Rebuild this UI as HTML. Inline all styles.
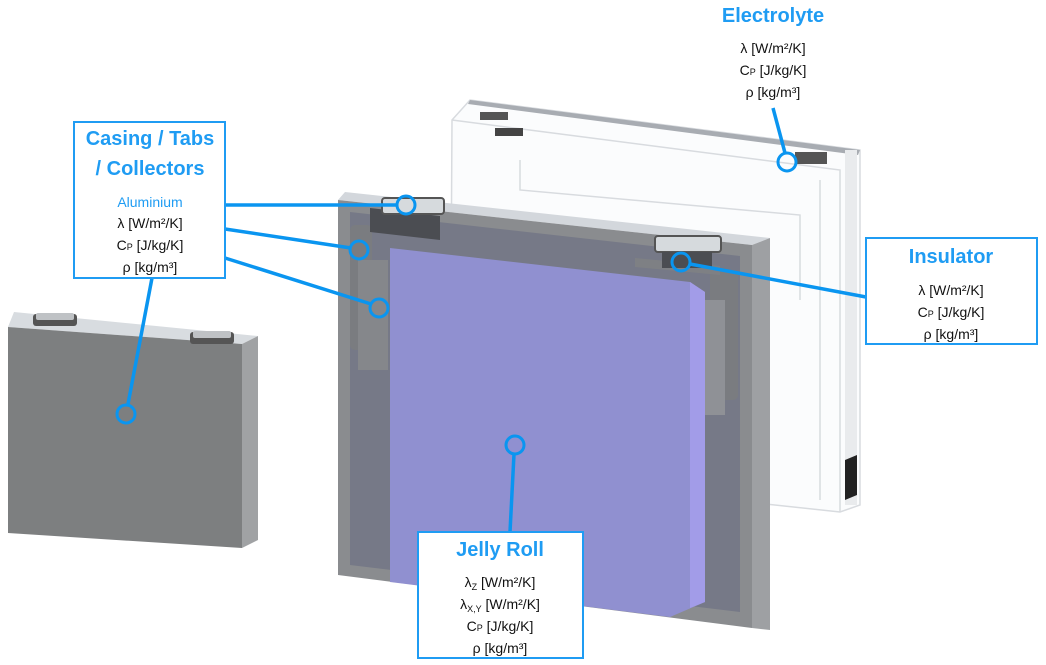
<!DOCTYPE html>
<html><head><meta charset="utf-8"><style>
html,body{margin:0;padding:0;background:#fff;}
svg{display:block;}
text{font-family:"Liberation Sans",sans-serif;}
.t{font-weight:bold;fill:#1f9cf3;font-size:20px;text-anchor:middle;}
.p{fill:#111;font-size:14px;text-anchor:middle;}
.b{fill:#fff;stroke:#1f9cf3;stroke-width:2;}
.l{stroke:#0a95f0;stroke-width:3.5;fill:none;}
.c{stroke:#0a95f0;stroke-width:3;fill:none;}
</style></head><body>
<svg width="1046" height="665" viewBox="0 0 1046 665" xmlns="http://www.w3.org/2000/svg">
<g fill="none" stroke="#d8dbdf" stroke-width="1.5">
<polygon points="452,120 470,100 860,150 860,505 840,512 450,470" fill="#fbfcfd"/>
<polyline points="452,120 840,170 840,512"/>
<polyline points="520,160 520,190 800,215 800,300"/>
<line x1="820" y1="180" x2="820" y2="500"/>
</g>
<polygon points="470,100 860,150 858,155 468,104" fill="#a8acb2"/>
<rect x="845" y="150" width="12" height="355" fill="#e9ebed"/>
<polygon points="845,460 857,455 857,495 845,500" fill="#222"/>
<rect x="480" y="112" width="28" height="8" fill="#555"/>
<rect x="495" y="128" width="28" height="8" fill="#444"/>
<rect x="795" y="152" width="32" height="12" fill="#555"/>
<polygon points="8,327 14,312 258,336 242,344" fill="#d8dce0"/>
<polygon points="242,344 258,336 258,540 242,548" fill="#a0a2a4"/>
<polygon points="8,327 242,344 242,548 8,533" fill="#7d7f80"/>
<rect x="33" y="314" width="44" height="12" rx="3" fill="#555"/>
<rect x="36" y="313" width="38" height="7" rx="2" fill="#bfc2c5"/>
<rect x="190" y="332" width="44" height="12" rx="3" fill="#555"/>
<rect x="193" y="331" width="38" height="7" rx="2" fill="#bfc2c5"/>
<polygon points="338,200 345,192 770,238 752,245" fill="#d3d7dc"/>
<polygon points="752,245 770,238 770,630 752,628" fill="#9ea0a3"/>
<polygon points="338,200 752,245 752,628 338,575" fill="#8a8c8f"/>
<polygon points="350,212 740,256 740,612 350,565" fill="#767987"/>
<rect x="350" y="225" width="22" height="125" rx="5" fill="#7a7c80"/>
<rect x="358" y="260" width="30" height="110" fill="#85878b"/>
<rect x="710" y="270" width="28" height="130" rx="5" fill="#7a7c80"/>
<rect x="685" y="300" width="40" height="115" fill="#8f9196"/>
<polygon points="390,248 690,282 705,292 705,602 670,617 390,582" fill="#9090d0"/>
<polygon points="690,282 705,292 705,602 690,608" fill="#a29ce8"/>
<polygon points="370,208 440,216 440,240 370,232" fill="#4b4d52"/>
<rect x="382" y="198" width="62" height="16" rx="3" fill="#d6dadd" stroke="#555" stroke-width="2"/>
<polygon points="635,258 720,266 720,275 635,267" fill="#7e8084"/>
<rect x="655" y="236" width="66" height="16" rx="3" fill="#d6dadd" stroke="#555" stroke-width="2"/>
<rect x="662" y="252" width="50" height="16" fill="#4b4d52"/>
<line class="l" x1="225" y1="205" x2="397" y2="205"/>
<line class="l" x1="225" y1="229" x2="351" y2="248"/>
<line class="l" x1="225" y1="258" x2="371" y2="304"/>
<line class="l" x1="152" y1="278" x2="128" y2="404"/>
<line class="l" x1="773" y1="108" x2="785" y2="153"/>
<line class="l" x1="690" y1="264" x2="866" y2="297"/>
<line class="l" x1="514" y1="454" x2="510" y2="532"/>
<circle class="c" cx="406" cy="205" r="9"/>
<circle class="c" cx="359" cy="250" r="9"/>
<circle class="c" cx="379" cy="308" r="9"/>
<circle class="c" cx="126" cy="414" r="9"/>
<circle class="c" cx="787" cy="162" r="9"/>
<circle class="c" cx="681" cy="262" r="9"/>
<circle class="c" cx="515" cy="445" r="9"/>
<rect class="b" x="74" y="122" width="151" height="156"/>
<text class="t" x="150" y="145">Casing / Tabs</text>
<text class="t" x="150" y="175">/ Collectors</text>
<text class="p" x="150" y="207" style="fill:#1f9cf3">Aluminium</text>
<text class="p" x="150" y="228">λ [W/m²/K]</text>
<text class="p" x="150" y="250">C<tspan font-size="9">P</tspan> [J/kg/K]</text>
<text class="p" x="150" y="272">ρ [kg/m³]</text>
<text class="t" x="773" y="22">Electrolyte</text>
<text class="p" x="773" y="53">λ [W/m²/K]</text>
<text class="p" x="773" y="75">C<tspan font-size="9">P</tspan> [J/kg/K]</text>
<text class="p" x="773" y="97">ρ [kg/m³]</text>
<rect class="b" x="866" y="238" width="171" height="106"/>
<text class="t" x="951" y="263">Insulator</text>
<text class="p" x="951" y="295">λ [W/m²/K]</text>
<text class="p" x="951" y="317">C<tspan font-size="9">P</tspan> [J/kg/K]</text>
<text class="p" x="951" y="339">ρ [kg/m³]</text>
<rect class="b" x="418" y="532" width="165" height="126"/>
<text class="t" x="500" y="556">Jelly Roll</text>
<text class="p" x="500" y="587">λ<tspan font-size="9" dy="3">Z</tspan><tspan dy="-3"> [W/m²/K]</tspan></text>
<text class="p" x="500" y="609">λ<tspan font-size="9" dy="3">X,Y</tspan><tspan dy="-3"> [W/m²/K]</tspan></text>
<text class="p" x="500" y="631">C<tspan font-size="9">P</tspan> [J/kg/K]</text>
<text class="p" x="500" y="653">ρ [kg/m³]</text>
</svg>
</body></html>
